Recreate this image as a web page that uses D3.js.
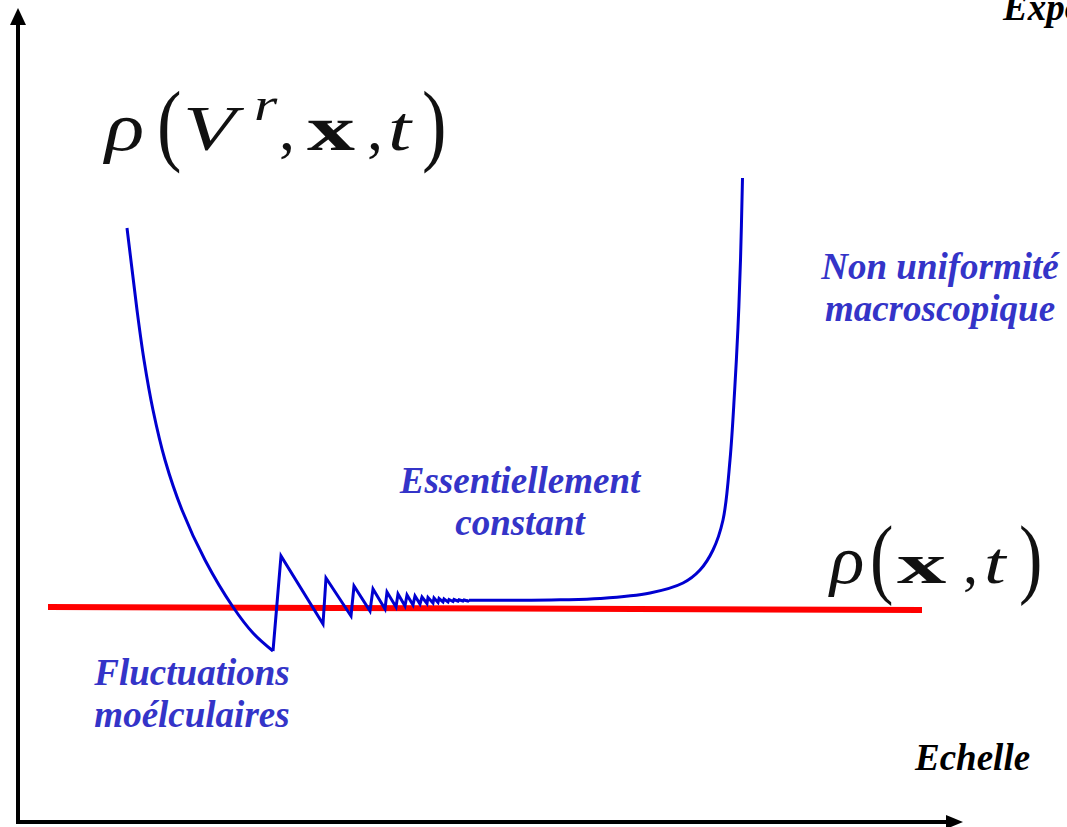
<!DOCTYPE html>
<html>
<head>
<meta charset="utf-8">
<script src="https://cdn.jsdelivr.net/npm/d3@7"></script>
<style>
  html, body { margin: 0; padding: 0; background: #fff; overflow: hidden; }
  svg { display: block; }
</style>
</head>
<body>
<svg></svg>
<script>
// values, in "scale" units (x) and "density" units (y)
const descent = [
  [109, 594], [113.5, 557], [119, 512], [126, 462], [135, 412], [147, 362],
  [164, 312], [187, 262], [215, 215], [235, 189], [255, 171]
];
const sawtooth = [
  [255, 171], [263, 266], [305, 198], [308, 244], [333, 206], [336, 236],
  [352, 211], [355, 233], [367, 213], [369, 230], [378, 215], [380, 228],
  [387, 216], [389, 227], [395, 217], [397, 226], [402, 218], [404, 225],
  [409, 218.5], [410, 224.5], [415, 219], [416, 224], [420, 219.5], [421, 223.5],
  [425, 220], [426, 223], [430, 220], [431, 222.5], [435, 220.5], [436, 222.5],
  [440, 220.8], [441, 222.2], [445, 221], [446, 222], [450, 221], [451, 221.8]
];
const rise = [
  [451, 221.8], [502, 221.7], [542, 222.2], [582, 223.5], [632, 229], [665, 239],
  [682, 252], [695, 272], [705, 302], [712, 362], [716.5, 429], [720, 495],
  [722.5, 562], [724.5, 644]
];
const meanLine = [[30, 215], [904, 212]];

const labels = [
  { text: ["Non uniformité", "macroscopique"], x: 922, y: 543, blue: true },
  { text: ["Essentiellement", "constant"], x: 502, y: 329, blue: true },
  { text: ["Fluctuations", "moélculaires"], x: 174, y: 137, blue: true },
  { text: ["Echelle"], x: 897, y: 52, blue: false },
  { text: ["Expo"], x: 985, y: 802, blue: false }
];

const width = 1067, height = 827;
const svg = d3.select("svg").attr("width", width).attr("height", height);

// scales (origin of the axes at the bottom left)
const x = d3.scaleLinear().domain([0, 945]).range([18, 963]);
const y = d3.scaleLinear().domain([0, 814]).range([822, 8]);

// axes with arrow heads
const axisColor = "#000";
svg.append("line")
  .attr("x1", x(0)).attr("y1", y(0))
  .attr("x2", x(0)).attr("y2", y(814) + 12)
  .attr("stroke", axisColor).attr("stroke-width", 4);
svg.append("line")
  .attr("x1", x(0) - 2).attr("y1", y(0))
  .attr("x2", x(945) - 12).attr("y2", y(0))
  .attr("stroke", axisColor).attr("stroke-width", 4);
svg.append("path")
  .attr("d", `M${x(0)},${y(814)} L${x(0) - 8},${y(814) + 17} L${x(0) + 8},${y(814) + 17} Z`)
  .attr("fill", axisColor);
svg.append("path")
  .attr("d", `M${x(945)},${y(0)} L${x(945) - 17},${y(0) - 7} L${x(945) - 17},${y(0) + 7} Z`)
  .attr("fill", axisColor);

// red mean density line
svg.append("line")
  .attr("x1", x(meanLine[0][0])).attr("y1", y(meanLine[0][1]))
  .attr("x2", x(meanLine[1][0])).attr("y2", y(meanLine[1][1]))
  .attr("stroke", "#ff0000").attr("stroke-width", 6);

// blue curve
const smooth = d3.line().x(d => x(d[0])).y(d => y(d[1])).curve(d3.curveCatmullRom.alpha(0.5));
const straight = d3.line().x(d => x(d[0])).y(d => y(d[1]));
const blue = "#0000d0";
[[descent, smooth], [sawtooth, straight], [rise, smooth]].forEach(([pts, gen]) => {
  svg.append("path")
    .attr("d", gen(pts))
    .attr("fill", "none")
    .attr("stroke", blue)
    .attr("stroke-width", 3)
    .attr("stroke-linejoin", "miter");
});

// labels
labels.forEach(l => {
  const t = svg.append("text")
    .attr("font-family", "'Liberation Serif', 'Times New Roman', serif")
    .attr("font-weight", "bold")
    .attr("font-style", "italic")
    .attr("font-size", 37)
    .attr("fill", l.blue ? "#3434c8" : "#000")
    .attr("text-anchor", l.blue ? "middle" : "start");
  l.text.forEach((s, i) => {
    t.append("tspan").attr("x", x(l.x)).attr("y", y(l.y) + i * 42).text(s);
  });
});

// formulas: each glyph placed relative to the formula's origin, stretched like the original
function formula(ox, oy, parts) {
  const g = svg.append("g").attr("transform", `translate(${ox},${oy})`)
    .attr("font-family", "'Liberation Serif', 'Times New Roman', serif")
    .attr("fill", "#111");
  parts.forEach(p => {
    const s = g.append("text")
      .attr("transform", `translate(${p.dx},${p.dy || 0}) scale(${p.sx || 1},1)`)
      .attr("font-size", p.size).text(p.t);
    if (p.it) s.attr("font-style", "italic");
    if (p.b) s.attr("font-weight", "bold");
  });
}
formula(x(87), y(672), [
  { t: "ρ", it: true, size: 68, sx: 1.2, dx: 0 },
  { t: "(", size: 92, sx: 0.8, dx: 52, dy: 4 },
  { t: "V", it: true, size: 64, sx: 1.35, dx: 78 },
  { t: "r", it: true, size: 46, sx: 1.3, dx: 149, dy: -30 },
  { t: ",", size: 64, dx: 174 },
  { t: "x", b: true, size: 64, sx: 1.5, dx: 202 },
  { t: ",", size: 64, dx: 262 },
  { t: "t", it: true, size: 64, sx: 1.3, dx: 283 },
  { t: ")", size: 92, sx: 0.8, dx: 317, dy: 4 }
]);
formula(x(812), y(239), [
  { t: "ρ", it: true, size: 68, sx: 1.05, dx: 0 },
  { t: "(", size: 88, sx: 0.8, dx: 40, dy: 4 },
  { t: "x", b: true, size: 58, sx: 1.7, dx: 67 },
  { t: ",", size: 60, dx: 133 },
  { t: "t", it: true, size: 60, sx: 1.3, dx: 154 },
  { t: ")", size: 88, sx: 0.8, dx: 189, dy: 4 }
]);
</script>
</body>
</html>
